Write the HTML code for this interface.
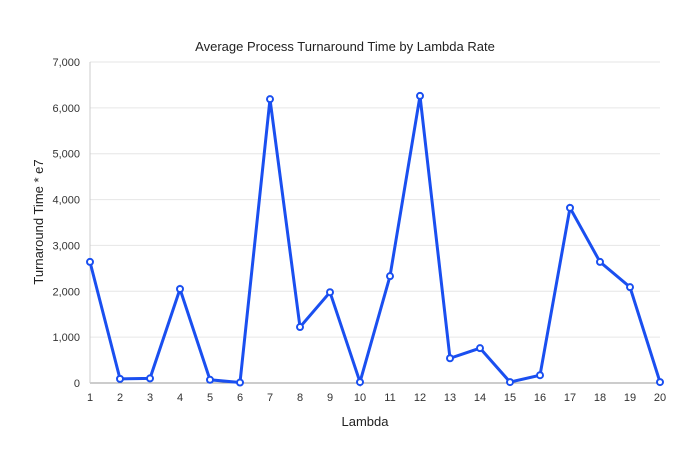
<!DOCTYPE html>
<html><head><meta charset="utf-8"><style>
body{margin:0;background:#fff;}
svg{font-family:"Liberation Sans",Arial,sans-serif;}
</style></head><body>
<svg id="chart" width="691" height="459">
<rect width="691" height="459" fill="#fff"/>
<text x="345" y="51" text-anchor="middle" font-size="13" fill="#222">Average Process Turnaround Time by Lambda Rate</text>
<g id="grid"></g><g id="yticks"></g><g id="xticks"></g>
<text x="365" y="426" text-anchor="middle" font-size="13" fill="#222">Lambda</text>
<text transform="translate(43,222) rotate(-90)" text-anchor="middle" font-size="13" fill="#222">Turnaround Time * e7</text>
<g id="series"></g>
</svg>
<script>
const categories=[1,2,3,4,5,6,7,8,9,10,11,12,13,14,15,16,17,18,19,20];
const values=[2640,90,100,2050,70,10,6190,1220,1980,20,2330,6260,540,760,20,170,3820,2640,2090,20];
const yTicks=[0,1000,2000,3000,4000,5000,6000,7000];
const yTickLabels=["0","1,000","2,000","3,000","4,000","5,000","6,000","7,000"];
const NS="http://www.w3.org/2000/svg";
const x0=90,x1=660,yb=383,yt=62,ymax=7000;
const xs=i=>x0+(x1-x0)*i/(categories.length-1);
const ys=v=>yb-(yb-yt)*v/ymax;
function mk(t,a,p){const e=document.createElementNS(NS,t);for(const k in a)e.setAttribute(k,a[k]);p.appendChild(e);return e;}
const g=document.getElementById('grid'),yt_=document.getElementById('yticks'),xt=document.getElementById('xticks'),s=document.getElementById('series');
yTicks.forEach((v,i)=>{
 const l=mk('line',{x1:x0,x2:x1,y1:ys(v),y2:ys(v),stroke:v===0?'#999':'#e6e6e6','stroke-width':1},g);
 
 
 const t=mk('text',{x:80,y:ys(v)+4,'text-anchor':'end','font-size':11,fill:'#333'},yt_);
 t.textContent=yTickLabels[i];
 
 
});
const ax=mk('line',{x1:x0,x2:x0,y1:yt,y2:yb,stroke:'#ccc','stroke-width':1},g);


categories.forEach((c,i)=>{
 const t=mk('text',{x:xs(i),y:401,'text-anchor':'middle','font-size':11,fill:'#333'},xt);
 t.textContent=c;
 
 
});
const pts=values.map((v,i)=>xs(i)+','+ys(v)).join(' ');
const pl=mk('polyline',{points:pts,fill:'none',stroke:'#1a4ff0','stroke-width':3,'stroke-linejoin':'miter'},s);


values.forEach((v,i)=>{
 const c=mk('circle',{cx:xs(i),cy:ys(v),r:3,fill:'#fff',stroke:'#1a4ff0','stroke-width':2},s);
 
 
});
</script>
</body></html>
